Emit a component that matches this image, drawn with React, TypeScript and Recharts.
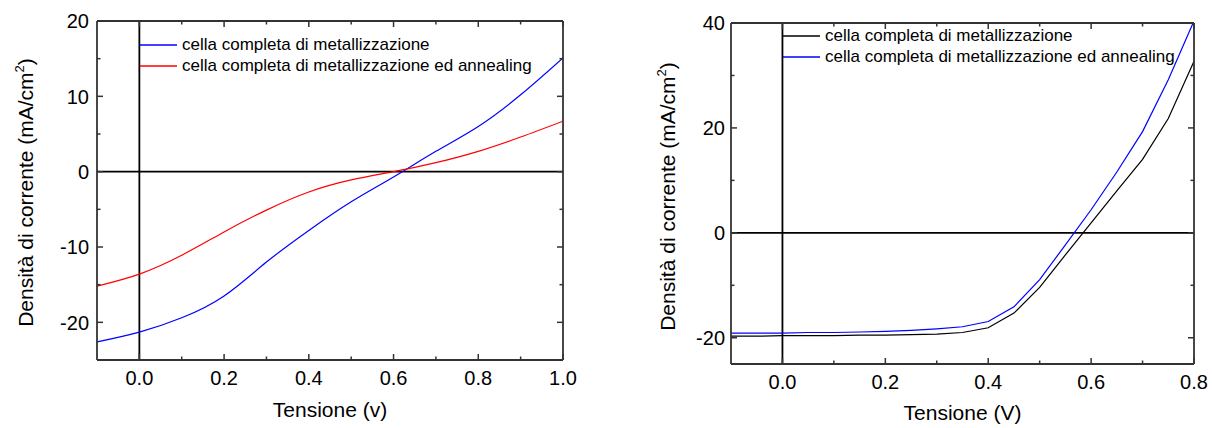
import React from 'react';
import { LineChart, Line, XAxis, YAxis, ReferenceLine, Legend } from 'recharts';

const FONT = '"Liberation Sans", Arial, Helvetica, sans-serif';

// ---------- Left chart data ----------
const leftVoltage = [-0.1, 0, 0.1, 0.2, 0.3, 0.4, 0.5, 0.6, 0.7, 0.8, 0.9, 1.0];
const leftMetallizzazione = [-22.6, -21.3, -19.4, -16.5, -12.0, -7.8, -4.0, -0.7, 2.7, 6.0, 10.2, 15.1];
const leftAnnealing = [-15.2, -13.6, -11.1, -8.0, -5.1, -2.7, -1.1, 0.0, 1.2, 2.7, 4.6, 6.7];
const leftXTicks = [0, 0.1, 0.2, 0.3, 0.4, 0.5, 0.6, 0.7, 0.8, 0.9, 1.0];
const leftXMajor = [0, 0.2, 0.4, 0.6, 0.8, 1.0];
const leftYTicks = [-20, -15, -10, -5, 0, 5, 10, 15, 20];
const leftYMajor = [-20, -10, 0, 10, 20];
const leftXDomain = [-0.1, 1.0];
const leftYDomain = [-25, 20];

// ---------- Right chart data ----------
const rightVoltage = [-0.1, -0.05, 0, 0.05, 0.1, 0.15, 0.2, 0.25, 0.3, 0.35, 0.4, 0.45, 0.5, 0.55, 0.6, 0.65, 0.7, 0.75, 0.8];
const rightMetallizzazione = [-19.7, -19.7, -19.6, -19.6, -19.6, -19.5, -19.5, -19.4, -19.3, -19.0, -18.1, -15.3, -10.4, -4.2, 1.9, 8.0, 14.0, 21.8, 32.7];
const rightAnnealing = [-19.1, -19.1, -19.1, -19.0, -19.0, -18.9, -18.8, -18.6, -18.3, -17.9, -16.9, -14.1, -8.9, -2.3, 4.4, 11.6, 19.3, 29.2, 40.4];
const rightXTicks = [0, 0.1, 0.2, 0.3, 0.4, 0.5, 0.6, 0.7, 0.8];
const rightXMajor = [0, 0.2, 0.4, 0.6, 0.8];
const rightYTicks = [-20, -10, 0, 10, 20, 30, 40];
const rightYMajor = [-20, 0, 20, 40];
const rightXDomain = [-0.1, 0.8];
const rightYDomain = [-25, 40];

const seriesNameA = 'cella completa di metallizzazione';
const seriesNameB = 'cella completa di metallizzazione ed annealing';

const leftData = leftVoltage.map((v, i) => ({ v, a: leftMetallizzazione[i], b: leftAnnealing[i] }));
const rightData = rightVoltage.map((v, i) => ({ v, a: rightMetallizzazione[i], b: rightAnnealing[i] }));

const FRAME = '#333';

function isMajor(v: number, majors: number[]) {
  return majors.some((m) => Math.abs(m - v) < 1e-6);
}

function makeTick(orientation: string, majors: number[], showLabel: boolean, opts: { gap: number; fontSize: number; decimals: number }) {
  return (props: any) => {
    const { x, y, payload } = props;
    const v = payload.value as number;
    const major = isMajor(v, majors);
    const len = major ? 6 : 3.5;
    let line: any = null;
    let label: any = null;
    const text = v.toFixed(opts.decimals);
    if (orientation === 'bottom') {
      line = <line x1={x} x2={x} y1={y} y2={y - len} stroke={FRAME} strokeWidth={1.5} />;
      if (showLabel && major) label = <text x={x} y={y + opts.gap} textAnchor="middle" fontSize={opts.fontSize} fontFamily={FONT} fill="#000">{text}</text>;
    } else if (orientation === 'top') {
      line = <line x1={x} x2={x} y1={y} y2={y + len} stroke={FRAME} strokeWidth={1.5} />;
    } else if (orientation === 'left') {
      line = <line x1={x} x2={x + len} y1={y} y2={y} stroke={FRAME} strokeWidth={1.5} />;
      if (showLabel && major) label = <text x={x - opts.gap} y={y} dy="0.36em" textAnchor="end" fontSize={opts.fontSize} fontFamily={FONT} fill="#000">{text}</text>;
    } else {
      line = <line x1={x} x2={x - len} y1={y} y2={y} stroke={FRAME} strokeWidth={1.5} />;
    }
    return (
      <g>
        {line}
        {label}
      </g>
    );
  };
}

function YTitle(props: any) {
  const { viewBox, dxBase, dyCenter } = props;
  const vb = viewBox || { x: 0, y: 0, width: 0, height: 0 };
  const cx = vb.x + dxBase;
  const cy = vb.y + vb.height / 2 + dyCenter;
  return (
    <text x={cx} y={cy} transform={`rotate(-90, ${cx}, ${cy})`} textAnchor="middle" fontSize={21} fontFamily={FONT} fill="#000">
      Densità di corrente (mA/cm<tspan dy={-9} fontSize={13}>2</tspan>
      <tspan dy={9}>)</tspan>
    </text>
  );
}

function XTitle(props: any) {
  const { viewBox, text, dyBase } = props;
  const vb = viewBox || { x: 0, y: 0, width: 0, height: 0 };
  return (
    <text x={vb.x + vb.width / 2} y={vb.y + dyBase} textAnchor="middle" fontSize={21} fontFamily={FONT} fill="#000">
      {text}
    </text>
  );
}

function LegendBox(props: any) {
  const { payload, rowHeight } = props;
  return (
    <div style={{ fontFamily: FONT, fontSize: 17, color: '#000' }}>
      {(payload || []).map((p: any, i: number) => (
        <div key={i} style={{ display: 'flex', alignItems: 'center', height: rowHeight, whiteSpace: 'nowrap' }}>
          <svg width={37} height={4} style={{ marginRight: 5, display: 'block' }}>
            <line x1={0} x2={37} y1={2} y2={2} stroke={p.color} strokeWidth={1.3} />
          </svg>
          <span>{p.value}</span>
        </div>
      ))}
    </div>
  );
}

export default function App() {
  return (
    <div style={{ position: 'absolute', left: 0, top: 0, width: 1212, height: 428, background: '#fff' }}>
      {/* Left chart */}
      <div style={{ position: 'absolute', left: 0, top: 0 }}>
        <LineChart width={600} height={428} data={leftData} margin={{ top: 20, right: 36, bottom: 38, left: 0 }}>
          <XAxis
            xAxisId="main"
            dataKey="v"
            type="number"
            domain={leftXDomain}
            allowDataOverflow
            ticks={leftXTicks}
            interval={0}
            height={30}
            tickSize={0}
            tickMargin={0}
            tickLine={false}
            axisLine={{ stroke: FRAME, strokeWidth: 1.8 }}
            tick={makeTick('bottom', leftXMajor, true, { gap: 25, fontSize: 20, decimals: 1 })}
            label={{ content: (p: any) => <XTitle {...p} text="Tensione (v)" dyBase={57} /> }}
          />
          <XAxis
            xAxisId="top"
            orientation="top"
            dataKey="v"
            type="number"
            domain={leftXDomain}
            allowDataOverflow
            ticks={leftXTicks}
            interval={0}
            height={1}
            tickSize={0}
            tickMargin={0}
            tickLine={false}
            axisLine={{ stroke: FRAME, strokeWidth: 1.8 }}
            tick={makeTick('top', leftXMajor, false, { gap: 0, fontSize: 20, decimals: 1 })}
          />
          <YAxis
            yAxisId="main"
            type="number"
            domain={leftYDomain}
            allowDataOverflow
            ticks={leftYTicks}
            interval={0}
            width={97}
            tickSize={0}
            tickMargin={0}
            tickLine={false}
            axisLine={{ stroke: FRAME, strokeWidth: 1.8 }}
            tick={makeTick('left', leftYMajor, true, { gap: 8, fontSize: 20, decimals: 0 })}
            label={{ content: (p: any) => <YTitle {...p} dxBase={33} dyCenter={2} /> }}
          />
          <YAxis
            yAxisId="right"
            orientation="right"
            type="number"
            domain={leftYDomain}
            allowDataOverflow
            ticks={leftYTicks}
            interval={0}
            width={1}
            tickSize={0}
            tickMargin={0}
            tickLine={false}
            axisLine={{ stroke: FRAME, strokeWidth: 1.8 }}
            tick={makeTick('right', leftYMajor, false, { gap: 0, fontSize: 20, decimals: 0 })}
          />
          <ReferenceLine xAxisId="main" yAxisId="main" y={0} stroke="#000" strokeWidth={1.8} />
          <ReferenceLine xAxisId="main" yAxisId="main" x={0} stroke="#000" strokeWidth={1.8} />
          <Line xAxisId="main" yAxisId="main" type="natural" dataKey="a" name={seriesNameA} stroke="#0000ff" strokeWidth={1.2} dot={false} isAnimationActive={false} />
          <Line xAxisId="main" yAxisId="main" type="natural" dataKey="b" name={seriesNameB} stroke="#ff0000" strokeWidth={1.2} dot={false} isAnimationActive={false} />
          <Legend
            layout="horizontal"
            verticalAlign="middle"
            align="center"
            width={420}
            wrapperStyle={{ left: 140, top: 34, width: 420 }}
            content={(p: any) => <LegendBox {...p} rowHeight={21} />}
          />
        </LineChart>
      </div>

      {/* Right chart */}
      <div style={{ position: 'absolute', left: 612, top: 0 }}>
        <LineChart width={600} height={428} data={rightData} margin={{ top: 22, right: 17, bottom: 34, left: 0 }}>
          <XAxis
            xAxisId="main"
            dataKey="v"
            type="number"
            domain={rightXDomain}
            allowDataOverflow
            ticks={rightXTicks}
            interval={0}
            height={30}
            tickSize={0}
            tickMargin={0}
            tickLine={false}
            axisLine={{ stroke: FRAME, strokeWidth: 1.8 }}
            tick={makeTick('bottom', rightXMajor, true, { gap: 25, fontSize: 20, decimals: 1 })}
            label={{ content: (p: any) => <XTitle {...p} text="Tensione (V)" dyBase={56} /> }}
          />
          <XAxis
            xAxisId="top"
            orientation="top"
            dataKey="v"
            type="number"
            domain={rightXDomain}
            allowDataOverflow
            ticks={rightXTicks}
            interval={0}
            height={1}
            tickSize={0}
            tickMargin={0}
            tickLine={false}
            axisLine={{ stroke: FRAME, strokeWidth: 1.8 }}
            tick={makeTick('top', rightXMajor, false, { gap: 0, fontSize: 20, decimals: 1 })}
          />
          <YAxis
            yAxisId="main"
            type="number"
            domain={rightYDomain}
            allowDataOverflow
            ticks={rightYTicks}
            interval={0}
            width={119}
            tickSize={0}
            tickMargin={0}
            tickLine={false}
            axisLine={{ stroke: FRAME, strokeWidth: 1.8 }}
            tick={makeTick('left', rightYMajor, true, { gap: 6, fontSize: 20, decimals: 0 })}
            label={{ content: (p: any) => <YTitle {...p} dxBase={63} dyCenter={3} /> }}
          />
          <YAxis
            yAxisId="right"
            orientation="right"
            type="number"
            domain={rightYDomain}
            allowDataOverflow
            ticks={rightYTicks}
            interval={0}
            width={1}
            tickSize={0}
            tickMargin={0}
            tickLine={false}
            axisLine={{ stroke: FRAME, strokeWidth: 1.8 }}
            tick={makeTick('right', rightYMajor, false, { gap: 0, fontSize: 20, decimals: 0 })}
          />
          <ReferenceLine xAxisId="main" yAxisId="main" y={0} stroke="#000" strokeWidth={1.8} />
          <ReferenceLine xAxisId="main" yAxisId="main" x={0} stroke="#000" strokeWidth={1.8} />
          <Line xAxisId="main" yAxisId="main" type="linear" dataKey="a" name={seriesNameA} stroke="#000000" strokeWidth={1.2} dot={false} isAnimationActive={false} />
          <Line xAxisId="main" yAxisId="main" type="linear" dataKey="b" name={seriesNameB} stroke="#0000ff" strokeWidth={1.2} dot={false} isAnimationActive={false} />
          <Legend
            layout="horizontal"
            verticalAlign="middle"
            align="center"
            width={420}
            wrapperStyle={{ left: 171, top: 26, width: 420 }}
            content={(p: any) => <LegendBox {...p} rowHeight={20.6} />}
          />
        </LineChart>
      </div>
    </div>
  );
}
